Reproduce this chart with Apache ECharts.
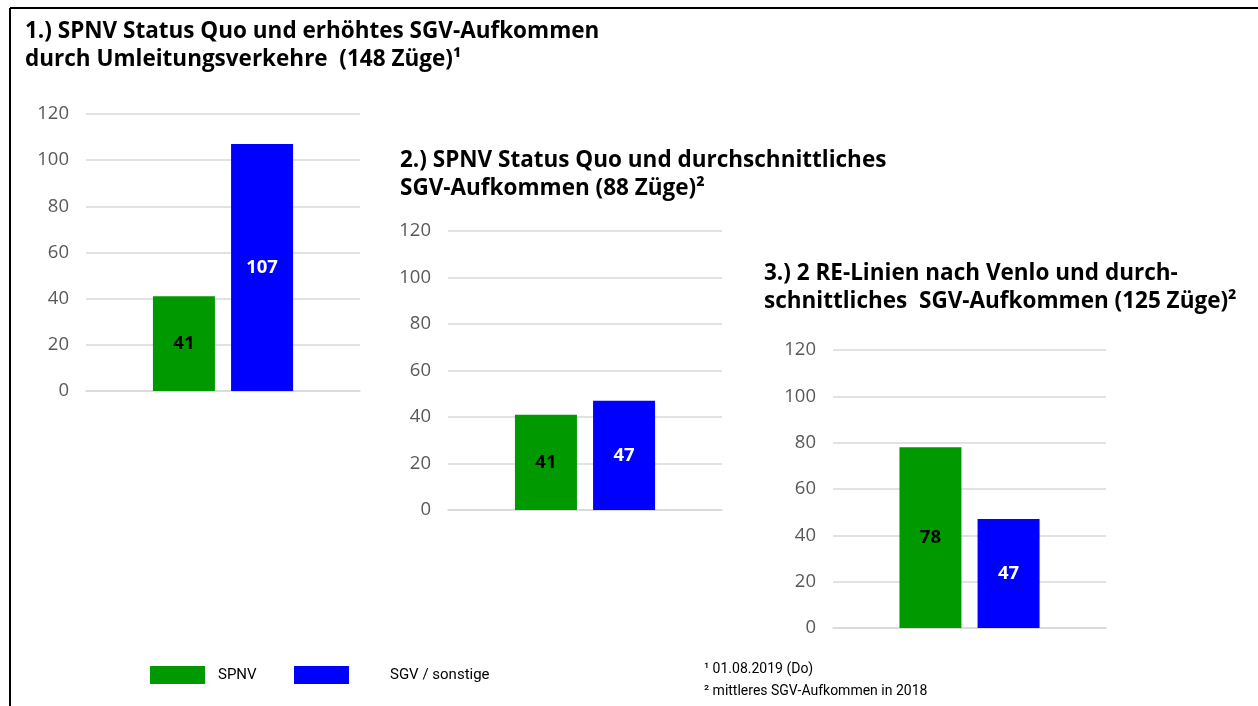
<!DOCTYPE html>
<html>
<head>
<meta charset="utf-8">
<script src="https://cdn.jsdelivr.net/npm/echarts@6/dist/echarts.min.js"></script>
<style>
  html, body { margin: 0; padding: 0; background: #fff; }
  #chart { width: 1258px; height: 706px; }
</style>
</head>
<body>
<div id="chart"></div>
<script>
'use strict';
// Werte je Szenario
var szenarien = ['1', '2', '3'];
var spnv = [41, 41, 78];
var sgv = [107, 47, 47];
var yTicks = { min: 0, max: 120, interval: 20 };
var titel = [
  '1.) SPNV Status Quo und erhöhtes SGV-Aufkommen\ndurch Umleitungsverkehre  (148 Züge)¹',
  '2.) SPNV Status Quo und durchschnittliches\nSGV-Aufkommen (88 Züge)²',
  '3.) 2 RE-Linien nach Venlo und durch-\nschnittliches  SGV-Aufkommen (125 Züge)²'
];
var fussnoten = '¹ 01.08.2019 (Do)\n² mittleres SGV-Aufkommen in 2018';

var farben = { spnv: '#009900', sgv: '#0000ff', grid: '#d9d9d9', achse: '#595959' };
var schrift = '"Open Sans", "Noto Sans", sans-serif';

// Positionen der drei Teildiagramme
var layout = [
  { grid: { left: 86, top: 114, width: 274, height: 277 }, title: { left: 20, top: 13 } },
  { grid: { left: 448, top: 231, width: 274, height: 279 }, title: { left: 395, top: 142 } },
  { grid: { left: 833, top: 350, width: 273, height: 278 }, title: { left: 759, top: 255 } }
];

var myChart = echarts.init(document.getElementById('chart'));

var grids = [], xAxes = [], yAxes = [], series = [], titles = [];
szenarien.forEach(function (s, i) {
  grids.push(layout[i].grid);
  titles.push({
    text: titel[i],
    left: layout[i].title.left,
    top: layout[i].title.top,
    textStyle: { fontFamily: schrift, fontWeight: 'bold', fontSize: 22.5, lineHeight: 28, color: '#000' }
  });
  xAxes.push({
    type: 'category', gridIndex: i, data: [''],
    axisLine: { lineStyle: { color: farben.grid, width: 1.5 } },
    axisTick: { show: false }, axisLabel: { show: false }
  });
  yAxes.push({
    type: 'value', gridIndex: i,
    min: yTicks.min, max: yTicks.max, interval: yTicks.interval,
    axisLine: { show: false }, axisTick: { show: false },
    axisLabel: { color: farben.achse, fontSize: 18.5, fontFamily: schrift, margin: 17 },
    splitLine: { lineStyle: { color: farben.grid, width: 1.5 } }
  });
  series.push({
    name: 'SPNV', type: 'bar', xAxisIndex: i, yAxisIndex: i,
    data: [spnv[i]], barWidth: 62, barGap: '26%',
    itemStyle: { color: farben.spnv },
    label: { show: true, position: 'inside', color: '#000', fontWeight: 'bold', fontSize: 18.5, fontFamily: schrift }
  });
  series.push({
    name: 'SGV / sonstige', type: 'bar', xAxisIndex: i, yAxisIndex: i,
    data: [sgv[i]], barWidth: 62, barGap: '26%',
    itemStyle: { color: farben.sgv },
    label: { show: true, position: 'inside', color: '#fff', fontWeight: 'bold', fontSize: 18.5, fontFamily: schrift }
  });
});

titles.push({
  text: fussnoten, left: 699, top: 653,
  textStyle: { fontFamily: '"Liberation Sans Narrow", Roboto, sans-serif', fontWeight: 'normal', fontSize: 14, lineHeight: 22, color: '#000' }
});

var legendText = { fontFamily: '"Liberation Sans Narrow", Roboto, sans-serif', fontSize: 15, color: '#000' };

var option = {
  animation: false,
  title: titles,
  grid: grids,
  xAxis: xAxes,
  yAxis: yAxes,
  series: series,
  legend: [
    { data: ['SPNV'], left: 145, top: 661, itemWidth: 55, itemHeight: 18, icon: 'rect',
      textStyle: Object.assign({ padding: [0, 0, 0, 8] }, legendText) },
    { data: ['SGV / sonstige'], left: 289, top: 661, itemWidth: 55, itemHeight: 18, icon: 'rect',
      textStyle: Object.assign({ padding: [0, 0, 0, 36] }, legendText) }
  ],
  graphic: [
    { type: 'line', shape: { x1: 10, y1: 8, x2: 1258, y2: 8 }, style: { stroke: '#000', lineWidth: 2 } },
    { type: 'line', shape: { x1: 10, y1: 8, x2: 10, y2: 706 }, style: { stroke: '#000', lineWidth: 2 } }
  ]
};
myChart.setOption(option);
</script>
</body>
</html>
